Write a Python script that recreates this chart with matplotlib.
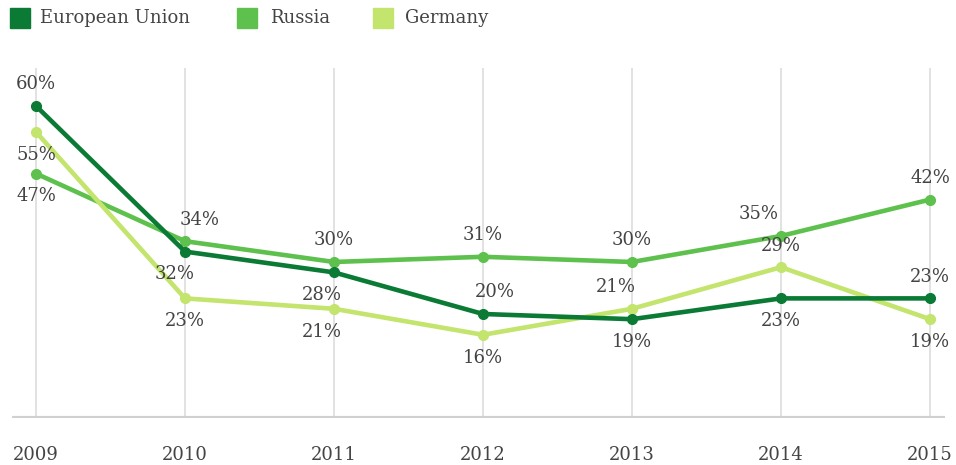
import matplotlib.pyplot as plt
from matplotlib.patches import Rectangle

# data
years = [2009, 2010, 2011, 2012, 2013, 2014, 2015]
eu = [60, 32, 28, 20, 19, 23, 23]
russia = [47, 34, 30, 31, 30, 35, 42]
germany = [55, 23, 21, 16, 21, 29, 19]
series_names = ['European Union', 'Russia', 'Germany']

# label placement: (dx pixels, above?)
eu_pos = [(0, True), (-10, False), (-12, False), (12, True), (0, False), (0, False), (0, True)]
ru_pos = [(0, False), (15, True), (0, True), (0, True), (0, True), (-22, True), (0, True)]
de_pos = [(0, False), (0, False), (-12, False), (0, False), (-16, True), (0, True), (0, False)]

c_eu = "#0b7a35"
c_ru = "#5ec14e"
c_de = "#c3e46d"
txt = "#444444"

plt.rcParams['font.family'] = ['DejaVu Serif']
W, H = 956, 465

fig = plt.figure(figsize=(W / 100, H / 100), dpi=100)
ax = fig.add_axes([12 / W, 1 - 418 / H, 933 / W, 350 / H])

for vals, pos, col in [(russia, ru_pos, c_ru), (germany, de_pos, c_de), (eu, eu_pos, c_eu)]:
    ax.plot(years, vals, color=col, lw=3.3, marker='o', ms=7, solid_capstyle='round', zorder=3)
    for x, v, (dx, above) in zip(years, vals, pos):
        ax.annotate(f"{v}%", (x, v), xytext=(dx * 0.72, 9 if above else -10),
                    textcoords='offset points', ha='center',
                    va='bottom' if above else 'top', fontsize=13, color=txt, zorder=4)

ax.set_xlim(2009 - 24 / 149, 2015 + 15 / 149)
ax.set_ylim(0, 67.3)
for x in years:
    ax.axvline(x, color='#dddddd', lw=1.2, zorder=1)
ax.axhline(0, color='#d0d0d0', lw=3, zorder=2)

for s in ax.spines.values():
    s.set_visible(False)
ax.set_yticks([])
ax.set_xticks(years)
ax.set_xticklabels([str(y) for y in years], fontsize=13, color=txt)
ax.tick_params(axis='x', length=0, pad=20)

# legend drawn by hand to match spacing
for name, col, sx, tx in zip(series_names, [c_eu, c_ru, c_de], [10, 237, 373], [40, 270, 405]):
    fig.add_artist(Rectangle((sx / W, 1 - 28 / H), 20 / W, 20 / H, color=col,
                             transform=fig.transFigure))
    fig.text(tx / W, 1 - 18 / H, name, fontsize=13, color=txt, va='center', ha='left')

fig.savefig('out.png', dpi=100)
